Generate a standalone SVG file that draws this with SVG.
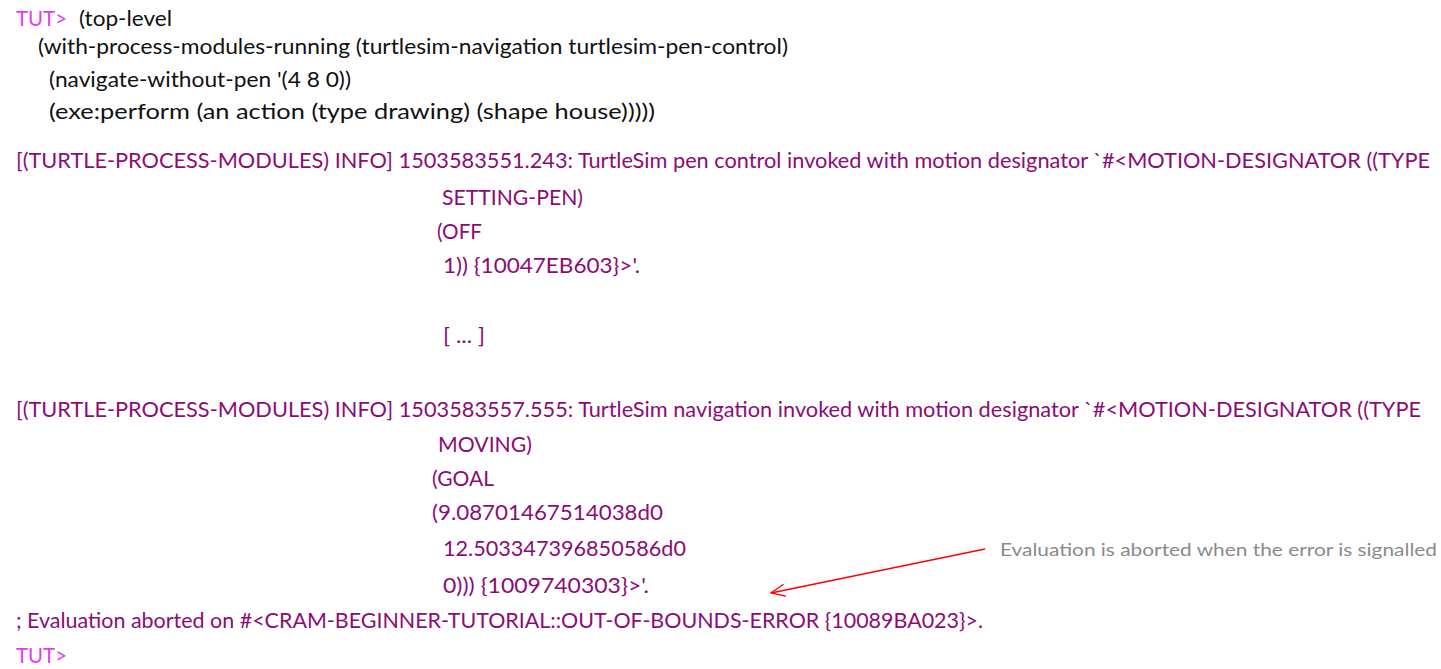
<svg xmlns="http://www.w3.org/2000/svg" width="1441" height="669" viewBox="0 0 1441 669">
  <style>
    text { font-family: "Lato", "Open Sans", "Liberation Sans", sans-serif; font-size: 22px; }
    .prompt { fill: #e63ce6; }
    .input { fill: #111111; }
    .log { fill: #8c0c74; }
    .note { fill: #8a8a8a; font-size: 18px; }
    .arrow { stroke: #ff0000; stroke-width: 1.3; fill: none; }
  </style>
  <defs>
    <marker id="openHead" markerWidth="16" markerHeight="14" refX="15" refY="7" orient="auto" markerUnits="userSpaceOnUse">
      <path d="M1,1 L15,7 L1,13" stroke="#ff0000" stroke-width="1.3" fill="none"/>
    </marker>
  </defs>
  <rect width="1441" height="669" fill="#ffffff"/>

  <!-- REPL input -->
  <g id="repl-input">
    <text class="prompt" x="16" y="26" textLength="51" lengthAdjust="spacingAndGlyphs">TUT&gt;</text>
    <text class="input" x="79" y="26" textLength="93" lengthAdjust="spacingAndGlyphs">(top-level</text>
    <text class="input" x="38" y="54" textLength="750" lengthAdjust="spacingAndGlyphs">(with-process-modules-running (turtlesim-navigation turtlesim-pen-control)</text>
    <text class="input" x="49" y="87" textLength="302" lengthAdjust="spacingAndGlyphs">(navigate-without-pen '(4 8 0))</text>
    <text class="input" x="49" y="119" textLength="606" lengthAdjust="spacingAndGlyphs">(exe:perform (an action (type drawing) (shape house)))))</text>
  </g>

  <!-- pen control log entry -->
  <g id="log-pen-control">
    <text class="log" x="16" y="168" textLength="1414" lengthAdjust="spacingAndGlyphs">[(TURTLE-PROCESS-MODULES) INFO] 1503583551.243: TurtleSim pen control invoked with motion designator `#&lt;MOTION-DESIGNATOR ((TYPE</text>
    <text class="log" x="442" y="205" textLength="141" lengthAdjust="spacingAndGlyphs">SETTING-PEN)</text>
    <text class="log" x="437" y="239" textLength="45" lengthAdjust="spacingAndGlyphs">(OFF</text>
    <text class="log" x="443" y="273" textLength="197" lengthAdjust="spacingAndGlyphs">1)) {10047EB603}&gt;'.</text>
    <text class="log" x="443" y="343" textLength="42" lengthAdjust="spacingAndGlyphs">[ ... ]</text>
  </g>

  <!-- navigation log entry -->
  <g id="log-navigation">
    <text class="log" x="16" y="417" textLength="1405" lengthAdjust="spacingAndGlyphs">[(TURTLE-PROCESS-MODULES) INFO] 1503583557.555: TurtleSim navigation invoked with motion designator `#&lt;MOTION-DESIGNATOR ((TYPE</text>
    <text class="log" x="438" y="452" textLength="94" lengthAdjust="spacingAndGlyphs">MOVING)</text>
    <text class="log" x="432" y="486" textLength="62" lengthAdjust="spacingAndGlyphs">(GOAL</text>
    <text class="log" x="432" y="520" textLength="231" lengthAdjust="spacingAndGlyphs">(9.08701467514038d0</text>
    <text class="log" x="443" y="556" textLength="243" lengthAdjust="spacingAndGlyphs">12.503347396850586d0</text>
    <text class="log" x="443" y="593" textLength="206" lengthAdjust="spacingAndGlyphs">0))) {1009740303}&gt;'.</text>
  </g>

  <!-- error and new prompt -->
  <g id="repl-error">
    <text class="log" x="16" y="628" textLength="967" lengthAdjust="spacingAndGlyphs">; Evaluation aborted on #&lt;CRAM-BEGINNER-TUTORIAL::OUT-OF-BOUNDS-ERROR {10089BA023}&gt;.</text>
    <text class="prompt" x="16" y="663" textLength="51" lengthAdjust="spacingAndGlyphs">TUT&gt;</text>
  </g>

  <!-- annotation -->
  <g id="note-abort">
    <text class="note" x="1000" y="556" textLength="437" lengthAdjust="spacingAndGlyphs">Evaluation is aborted when the error is signalled</text>
  </g>

  <g id="connectors">
    <line class="arrow" x1="985" y1="549" x2="771" y2="593" marker-end="url(#openHead)"/>
  </g>
</svg>
